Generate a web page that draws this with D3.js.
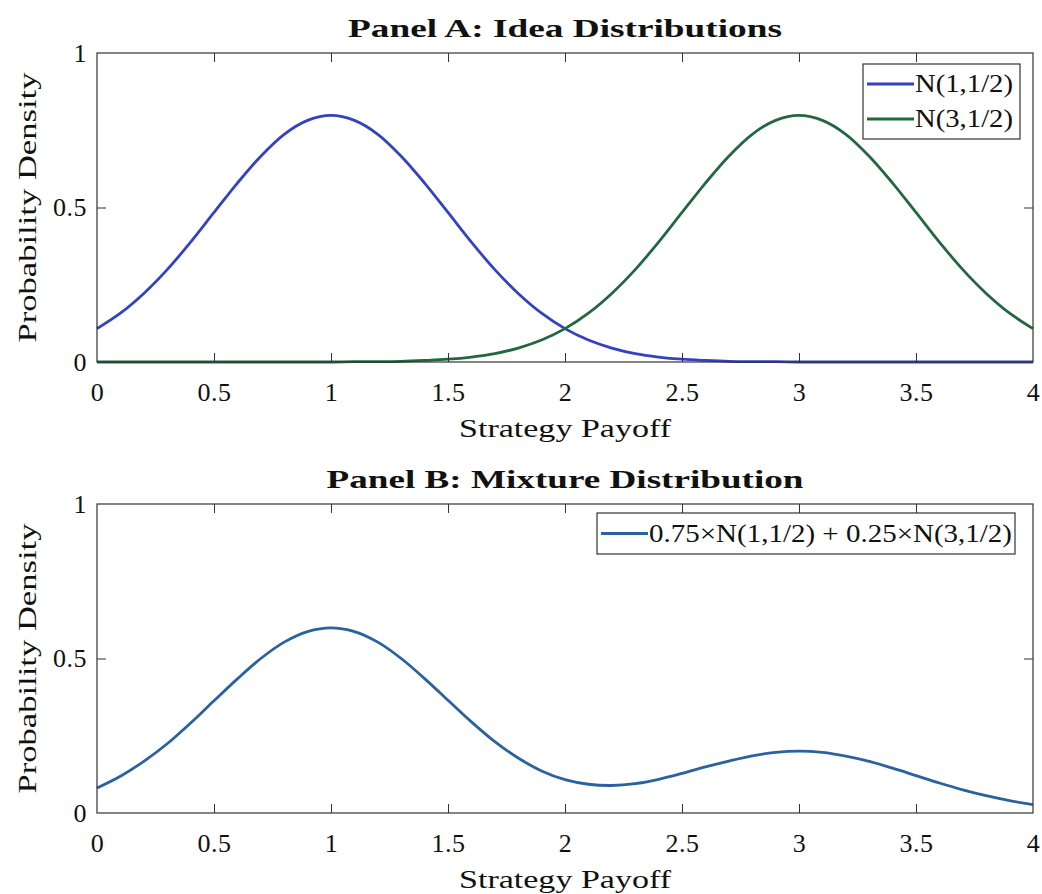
<!DOCTYPE html>
<html>
<head>
<meta charset="utf-8">
<script src="https://cdn.jsdelivr.net/npm/d3@7"></script>
<style>
  body { margin: 0; background: #fff; }
  text { font-family: "Liberation Serif", "Times New Roman", serif; fill: #111; }
</style>
</head>
<body>
<div id="container"></div>
<script>
// strategy payoff grid (x) and densities
const payoff = [0, 0.1, 0.2, 0.3, 0.4, 0.5, 0.6, 0.7, 0.8, 0.9,
  1, 1.1, 1.2, 1.3, 1.4, 1.5, 1.6, 1.7, 1.8, 1.9,
  2, 2.1, 2.2, 2.3, 2.4, 2.5, 2.6, 2.7, 2.8, 2.9,
  3, 3.1, 3.2, 3.3, 3.4, 3.5, 3.6, 3.7, 3.8, 3.9, 4];

const ideaLow = [0.108, 0.158, 0.222, 0.299, 0.388, 0.484, 0.579, 0.666, 0.737, 0.782,
  0.798, 0.782, 0.737, 0.666, 0.579, 0.484, 0.388, 0.299, 0.222, 0.158,
  0.108, 0.071, 0.045, 0.027, 0.016, 0.009, 0.005, 0.002, 0.001, 0.001,
  0, 0, 0, 0, 0, 0, 0, 0, 0, 0, 0];

const ideaHigh = [0, 0, 0, 0, 0, 0, 0, 0, 0, 0,
  0, 0.001, 0.001, 0.002, 0.005, 0.009, 0.016, 0.027, 0.045, 0.071,
  0.108, 0.158, 0.222, 0.299, 0.388, 0.484, 0.579, 0.666, 0.737, 0.782,
  0.798, 0.782, 0.737, 0.666, 0.579, 0.484, 0.388, 0.299, 0.222, 0.158, 0.108];

const mixture = [0.081, 0.119, 0.167, 0.224, 0.291, 0.363, 0.434, 0.500, 0.553, 0.587,
  0.599, 0.587, 0.553, 0.500, 0.435, 0.365, 0.295, 0.231, 0.178, 0.136,
  0.108, 0.093, 0.089, 0.095, 0.109, 0.128, 0.149, 0.168, 0.185, 0.196,
  0.200, 0.196, 0.184, 0.167, 0.145, 0.121, 0.097, 0.075, 0.056, 0.040, 0.027];

const xTicks = [0, 0.5, 1, 1.5, 2, 2.5, 3, 3.5, 4];
const yTicks = [0, 0.5, 1];

const panelTitles = ["Panel A: Idea Distributions", "Panel B: Mixture Distribution"];
const legendLabels = ["N(1,1/2)", "N(3,1/2)", "0.75\u00d7N(1,1/2) + 0.25\u00d7N(3,1/2)"];

const width = 1042, height = 894;
const left = 97, right = 1033, plotH = 309;

const svg = d3.select("#container").append("svg")
  .attr("width", width)
  .attr("height", height);

const x = d3.scaleLinear().domain([0, 4]).range([left, right]);

const panels = [
  {
    top: 53, title: panelTitles[0], titleLen: 434,
    series: [
      { values: ideaLow, color: "#3341c2", label: legendLabels[0] },
      { values: ideaHigh, color: "#22683f", label: legendLabels[1] }
    ],
    legend: { x: 863, y: 64, w: 157, h: 75, row: 35, textLen: 98 }
  },
  {
    top: 504, title: panelTitles[1], titleLen: 477,
    series: [
      { values: mixture, color: "#2a62a0", label: legendLabels[2] }
    ],
    legend: { x: 597, y: 513, w: 418, h: 41, row: 0, textLen: 363 }
  }
];

panels.forEach(p => {
  let y = d3.scaleLinear().domain([0, 1]).range([p.top + plotH, p.top]);
  let g = svg.append("g");

  // curves
  let line = d3.line()
    .x((d, i) => x(payoff[i]))
    .y(d => y(d))
    .curve(d3.curveCatmullRom);

  p.series.forEach(s => {
    g.append("path")
      .datum(s.values)
      .attr("d", line)
      .attr("fill", "none")
      .attr("stroke", s.color)
      .attr("stroke-width", 2.8);
  });

  // axes, ticks pointing inward on all four sides
  let bottom = g.append("g")
    .attr("transform", `translate(0,${p.top + plotH})`)
    .call(d3.axisBottom(x).tickValues(xTicks).tickSize(-9).tickSizeOuter(0)
      .tickPadding(21).tickFormat(d3.format("")));
  let top = g.append("g")
    .attr("transform", `translate(0,${p.top})`)
    .call(d3.axisTop(x).tickValues(xTicks).tickSize(-9).tickSizeOuter(0).tickFormat(""));
  let leftAx = g.append("g")
    .attr("transform", `translate(${left},0)`)
    .call(d3.axisLeft(y).tickValues(yTicks).tickSize(-9).tickSizeOuter(0)
      .tickPadding(10).tickFormat(d3.format("")));
  let rightAx = g.append("g")
    .attr("transform", `translate(${right},0)`)
    .call(d3.axisRight(y).tickValues(yTicks).tickSize(-9).tickSizeOuter(0).tickFormat(""));

  [bottom, top, leftAx, rightAx].forEach(a => {
    a.select(".domain").remove();
    a.selectAll("line").attr("stroke", "#333").attr("stroke-width", 1);
    a.selectAll("text")
      .style("font-family", "'Liberation Serif', serif")
      .style("font-size", "26px")
      .style("letter-spacing", "0.5px")
      .attr("fill", "#111");
  });

  // hide ticks sitting on the frame corners
  [bottom, top].forEach(a => a.selectAll(".tick line")
    .filter(d => d === 0 || d === 4).remove());
  [leftAx, rightAx].forEach(a => a.selectAll(".tick line")
    .filter(d => d === 0 || d === 1).remove());

  g.append("rect")
    .attr("x", left).attr("y", p.top)
    .attr("width", right - left).attr("height", plotH)
    .attr("fill", "none").attr("stroke", "#333").attr("stroke-width", 1.2);

  // titles and labels
  g.append("text")
    .attr("x", (left + right) / 2).attr("y", p.top - 16)
    .attr("text-anchor", "middle")
    .attr("font-weight", "bold").attr("font-size", 26)
    .attr("textLength", p.titleLen).attr("lengthAdjust", "spacingAndGlyphs")
    .text(p.title);

  g.append("text")
    .attr("x", (left + right) / 2).attr("y", p.top + plotH + 75)
    .attr("text-anchor", "middle").attr("font-size", 26)
    .attr("textLength", 212).attr("lengthAdjust", "spacingAndGlyphs")
    .text("Strategy Payoff");

  g.append("text")
    .attr("transform", `translate(36,${p.top + plotH / 2}) rotate(-90)`)
    .attr("text-anchor", "middle").attr("font-size", 26)
    .attr("textLength", 270).attr("lengthAdjust", "spacingAndGlyphs")
    .text("Probability Density");

  // legend
  let lg = g.append("g");
  lg.append("rect")
    .attr("x", p.legend.x).attr("y", p.legend.y)
    .attr("width", p.legend.w).attr("height", p.legend.h)
    .attr("fill", "#fff").attr("stroke", "#333").attr("stroke-width", 1.2);

  p.series.forEach((s, i) => {
    let cy = p.legend.y + 20 + i * p.legend.row;
    if (p.series.length === 1) cy = p.legend.y + p.legend.h / 2;
    lg.append("line")
      .attr("x1", p.legend.x + 4).attr("x2", p.legend.x + 51)
      .attr("y1", cy).attr("y2", cy)
      .attr("stroke", s.color).attr("stroke-width", 2.8);
    lg.append("text")
      .attr("x", p.legend.x + 52).attr("y", cy + 8)
      .attr("font-size", 25)
      .attr("textLength", p.legend.textLen).attr("lengthAdjust", "spacingAndGlyphs")
      .text(s.label);
  });
});
</script>
</body>
</html>
